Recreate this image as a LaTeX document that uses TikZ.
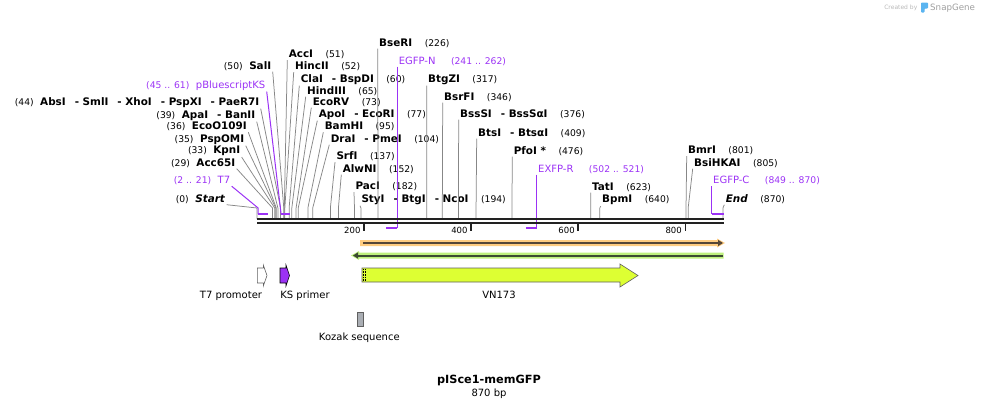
\documentclass[tikz,border=0pt]{standalone}
\usepackage{fontspec}
\setmainfont{DejaVu Sans}
\usepackage{tikz}
\usetikzlibrary{arrows.meta,positioning}
\definecolor{primer}{RGB}{155,50,245}
\definecolor{leadgray}{RGB}{135,135,135}
\definecolor{seqdark}{RGB}{34,34,34}
\definecolor{orfband}{RGB}{255,204,128}
\definecolor{orfbandb}{RGB}{190,240,125}
\definecolor{orfline}{RGB}{85,70,55}
\definecolor{orflineb}{RGB}{60,75,50}
\definecolor{vnfill}{RGB}{221,255,51}
\definecolor{kozakfill}{RGB}{170,174,180}
\definecolor{snapblue}{RGB}{90,180,240}
\newcommand{\numsize}{\fontsize{9.2}{11}\selectfont}
\newcommand{\orsep}{\hspace{9pt}-\ }
\newcommand{\cutR}[2]{\textbf{#1}\hspace{12.5pt}{\numsize(#2)}}
\newcommand{\cutL}[2]{{\numsize(#1)}\hspace{6.5pt}\textbf{#2}}
\newcommand{\primR}[2]{#1\hspace{15.5pt}{\numsize(#2)}}
\newcommand{\primL}[2]{{\numsize(#1)}\hspace{6.5pt}#2}
\tikzset{
  cutlbl/.style={inner sep=0pt, outer sep=1.5pt, font=\fontsize{10.4}{12}\selectfont},
  rsite/.style={cutlbl, anchor=base west},
  lsite/.style={cutlbl, anchor=base east},
  primlbl/.style={cutlbl, text=primer, font=\fontsize{10}{12}\selectfont},
  leader/.style={draw=leadgray, line width=0.75pt},
  primline/.style={draw=primer, line width=1pt},
  primbar/.style={draw=primer, line width=2.2pt},
  featbox/.style={draw=gray!75!black, line width=0.6pt},
  featlbl/.style={inner sep=0pt, anchor=base, font=\fontsize{10}{12}\selectfont},
}

\begin{document}
\begin{tikzpicture}[x=1pt, y=-1pt]
  \useasboundingbox (0,0) rectangle (981,407);

  % sequence ends and cut sites
  \coordinate (seqL) at (257,219);
  \coordinate (seqR) at (723.5,219);
  \coordinate (seqL2) at (257,223);
  \coordinate (seqR2) at (723.5,223);
  \foreach \p in {0,29,33,35,36,39,44,50,51,52,60,65,73,77,95,104,137,152,182,194,226,317,346,376,409,476,623,640,801,805,870}
    \coordinate (c\p) at ({257+\p*0.5356},208);

  % sites right of their cut
  \node[rsite] (bseri) at (377.7,46) {\cutR{BseRI}{226}};
  \node[rsite] (acci) at (287.3,57.5) {\cutR{AccI}{51}};
  \node[rsite] (hincii) at (293.7,69.5) {\cutR{HincII}{52}};
  \node[rsite] (clai) at (299.3,82) {\cutR{ClaI\orsep BspDI}{60}};
  \node[rsite] (hindiii) at (305.7,94) {\cutR{HindIII}{65}};
  \node[rsite] (ecorv) at (311.3,105) {\cutR{EcoRV}{73}};
  \node[rsite] (apoi) at (317.3,117) {\cutR{ApoI\orsep EcoRI}{77}};
  \node[rsite] (bamhi) at (323.3,129.5) {\cutR{BamHI}{95}};
  \node[rsite] (drai) at (329.3,142) {\cutR{DraI\orsep PmeI}{104}};
  \node[rsite] (srfi) at (335,159.5) {\cutR{SrfI}{137}};
  \node[rsite] (alwni) at (341.3,172) {\cutR{AlwNI}{152}};
  \node[rsite] (paci) at (354,189.5) {\cutR{PacI}{182}};
  \node[rsite] (styi) at (360,202) {\cutR{StyI\orsep BtgI\orsep NcoI}{194}};
  \node[rsite] (btgzi) at (426.7,82) {\cutR{BtgZI}{317}};
  \node[rsite] (bsrfi) at (442.7,100) {\cutR{BsrFI}{346}};
  \node[rsite] (bsssi) at (458.7,117) {\cutR{BssSI\orsep BssSαI}{376}};
  \node[rsite] (btsi) at (476.7,136) {\cutR{BtsI\orsep BtsαI}{409}};
  \node[rsite] (pfoi) at (512.3,154) {\cutR{PfoI *}{476}};
  \node[rsite] (tati) at (590.7,190) {\cutR{TatI}{623}};
  \node[rsite] (bpmi) at (600.7,202.5) {\cutR{BpmI}{640}};
  \node[rsite] (bmri) at (686.7,153.5) {\cutR{BmrI}{801}};
  \node[rsite] (bsihkai) at (692.7,166) {\cutR{BsiHKAI}{805}};
  \node[rsite] (endl) at (724.3,202) {\cutR{\textit{End}}{870}};

  % sites left of their cut
  \node[lsite] (sali) at (272.7,69) {\cutL{50}{SalI}};
  \node[lsite] (absi) at (260.7,105) {\cutL{44}{AbsI\orsep SmlI\orsep XhoI\orsep PspXI\orsep PaeR7I}};
  \node[lsite] (apai) at (256.7,118) {\cutL{39}{ApaI\orsep BanII}};
  \node[lsite] (ecoo) at (248.3,129.5) {\cutL{36}{EcoO109I}};
  \node[lsite] (pspomi) at (245.7,142) {\cutL{35}{PspOMI}};
  \node[lsite] (kpni) at (241.7,153.5) {\cutL{33}{KpnI}};
  \node[lsite] (acc65i) at (236.7,166) {\cutL{29}{Acc65I}};
  \node[lsite] (startl) at (226.7,202) {\cutL{0}{\textit{Start}}};

  \foreach \n/\p in {bseri/226,acci/51,hincii/52,clai/60,hindiii/65,ecorv/73,apoi/77,bamhi/95,drai/104,srfi/137,alwni/152,paci/182,styi/194,btgzi/317,bsrfi/346,bsssi/376,btsi/409,pfoi/476,tati/623,bpmi/640,bmri/801,bsihkai/805,endl/870}
    \draw[leader] (\n.south west) -- (c\p) -- (c\p |- seqL);
  \foreach \n/\p in {sali/50,absi/44,apai/39,ecoo/36,pspomi/35,kpni/33,acc65i/29,startl/0}
    \draw[leader] (\n.south east) -- (c\p) -- (c\p |- seqL);

  % primers
  \coordinate (kT7) at (258.1,208);
  \coordinate (pT7a) at (258.1,214);
  \coordinate (pT7b) at (268.2,214);
  \coordinate (pBKSa) at (281.1,214);
  \coordinate (pBKSb) at (289.7,214);
  \coordinate (pEGFPNa) at (386.1,228);
  \coordinate (pEGFPNb) at (397.3,228);
  \coordinate (pEXFPRa) at (525.9,228);
  \coordinate (pEXFPRb) at (536.7,228);
  \coordinate (pEGFPCa) at (711.7,214);
  \coordinate (pEGFPCb) at (723.5,214);

  \node[primlbl, anchor=base east] (t7) at (231.7,183.5) {\primL{2 .. 21}{T7}};
  \node[primlbl, anchor=base east] (pbks) at (266.7,88) {\primL{45 .. 61}{pBluescriptKS}};
  \node[primlbl, anchor=base west] (egfpn) at (397.3,64) {\primR{EGFP-N}{241 .. 262}};
  \node[primlbl, anchor=base west] (exfpr) at (536.7,172) {\primR{EXFP-R}{502 .. 521}};
  \node[primlbl, anchor=base west] (egfpc) at (711.7,183.5) {\primR{EGFP-C}{849 .. 870}};

  \draw[primline] (t7.south east) -- (kT7) -- (pT7a);
  \draw[primline] (pbks.south east) -- (pBKSa);
  \draw[primline] (pEGFPNb |- egfpn.south) -- (pEGFPNb);
  \draw[primline] (pEXFPRb |- exfpr.south) -- (pEXFPRb);
  \draw[primline] (pEGFPCa |- egfpc.south) -- (pEGFPCa);
  \draw[primbar] (pT7a) -- (pT7b);
  \draw[primbar] (pBKSa) -- (pBKSb);
  \draw[primbar] (pEGFPNa) -- (pEGFPNb);
  \draw[primbar] (pEXFPRa) -- (pEXFPRb);
  \draw[primbar] (pEGFPCa) -- (pEGFPCb);

  % the two strands
  \draw[seqdark, line width=2.3pt] (seqL) -- (seqR);
  \draw[seqdark, line width=2.3pt] (seqL2) -- (seqR2);
  \foreach \t in {200,400,600,800} {
    \draw[seqdark, line width=1.8pt] ({257+\t*0.5356},223) -- ++(0,7.5);
    \node[anchor=base east, inner sep=0pt, font=\fontsize{8.5}{10}\selectfont] (tk\t)
      at ({257+\t*0.5356-3.5},233.5) {\t};
  }

  % open reading frames
  \fill[orfband] (360,240) -- (717,240) -- (717,238.5) -- (725,243) -- (717,247.5) -- (717,246) -- (360,246) -- cycle;
  \draw[orfline, line width=2pt, -{Triangle[length=5pt,width=6pt]}] (363,243) -- (723,243);
  \fill[orfbandb] (723.5,252.5) -- (359,252.5) -- (359,251) -- (351,255.5) -- (359,260) -- (359,258.5) -- (723.5,258.5) -- cycle;
  \draw[orflineb, line width=2pt, -{Triangle[length=5pt,width=6pt]}] (723,255.5) -- (353,255.5);

  % features
  \draw[featbox, fill=white] (257.3,268) -- (263.3,268) -- (263.3,265) -- (267,275.5)
    -- (263.3,286) -- (263.3,283) -- (257.3,283) -- cycle;
  \draw[featbox, draw=black, fill=primer] (280,268) -- (286,268) -- (286,265) -- (289.5,275.5)
    -- (286,286) -- (286,283) -- (280,283) -- cycle;
  \draw[featbox, fill=vnfill] (362,268) -- (620,268) -- (620,264) -- (638,275.5)
    -- (620,287) -- (620,282) -- (362,282) -- cycle;
  \draw[densely dotted, line width=0.6pt] (363.4,269) -- (363.4,281);
  \draw[densely dotted, line width=0.6pt] (365,269) -- (365,281);
  \draw[featbox, fill=kozakfill] (357,312) rectangle (363,326);

  \node[featlbl] (t7prom) at (231,298) {T7 promoter};
  \node[featlbl] (ksprim) at (305,298) {KS primer};
  \node[featlbl] (vn173) at (499,298) {VN173};
  \node[featlbl] (kozak) at (359.3,340.5) {Kozak sequence};

  % map title
  \node[featlbl, font=\bfseries\fontsize{11.3}{13}\selectfont] (title) at (489,383.5) {pISce1-memGFP};
  \node[inner sep=0pt, font=\fontsize{10}{12}\selectfont, below=2.5pt of title] (len) {870 bp};

  % credit
  \node[inner sep=0pt, anchor=base east, text=gray!55, font=\fontsize{6}{7}\selectfont] (credit) at (917.5,9.5) {Created by};
  \fill[snapblue, rounded corners=0.8pt] (921,2.5) -- (928,2.5) -- (928,8.5) -- (924.5,8.5) -- (924.5,12.5) -- (921,12.5) -- cycle;
  \node[inner sep=0pt, anchor=base west, text=gray!75, font=\fontsize{8.7}{10}\selectfont] (sgname) at (930,10.5) {SnapGene};
\end{tikzpicture}
\end{document}
